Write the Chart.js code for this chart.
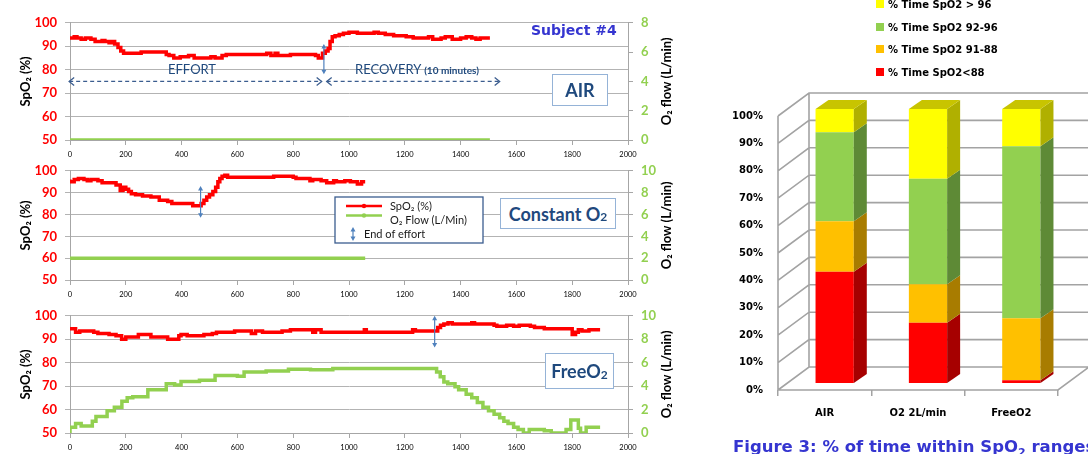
<!DOCTYPE html>
<html>
<head>
<meta charset="utf-8">
<title>Subject #4 - SpO2 and O2 flow</title>
<script src="https://cdn.jsdelivr.net/npm/chart.js@4.4.1/dist/chart.umd.min.js"></script>
<style>
  html, body { margin: 0; padding: 0; background: #fff; }
  body { position: relative; width: 1088px; height: 454px; overflow: hidden; font-family: Lato, sans-serif; }
  canvas { position: absolute; }
  .tag { position: absolute; box-sizing: border-box; background: #fff; border: 1.5px solid #95b3d7;
         color: #1f497d; font: bold 18px Lato, sans-serif; display: flex; align-items: center;
         justify-content: center; white-space: nowrap; }
  .tag sub { font-size: 12px; position: relative; top: 3px; vertical-align: baseline; }
  .note { position: absolute; color: #1f497d; font: 13px/13px Lato, sans-serif; white-space: nowrap; }
  .note b { font-size: 10px; }
  #subject { position: absolute; left: 531px; top: 23px; color: #3535d0; font: bold 14px/14px "DejaVu Sans", sans-serif; white-space: nowrap; }
  #legend3d { position: absolute; left: 876px; top: 0; font: bold 10px/12px "DejaVu Sans", sans-serif; }
  #legend3d div { position: absolute; left: 0; white-space: nowrap; }
  #legend3d span { display: inline-block; width: 8px; height: 8px; margin-right: 4px; }
  #caption { position: absolute; left: 733px; top: 438px; color: #3535d0; font: bold 16.5px/17px "DejaVu Sans", sans-serif; white-space: nowrap; }
  #caption sub { font-size: 11px; }
</style>
</head>
<body>
<canvas id="air" width="690" height="155" style="left:0;top:7px"></canvas>
<canvas id="constant" width="690" height="147" style="left:0;top:155px"></canvas>
<canvas id="free" width="690" height="155" style="left:0;top:300px"></canvas>
<canvas id="ranges" width="388" height="454" style="left:700px;top:0"></canvas>

<div id="subject">Subject #4</div>
<div class="note" style="left:168px;top:63px">EFFORT</div>
<div class="note" style="left:355px;top:63px">RECOVERY <b>(10 minutes)</b></div>
<div class="tag" style="left:552px;top:74px;width:56px;height:32px">AIR</div>
<div class="tag" style="left:500px;top:198px;width:116px;height:31px">Constant O<sub>2</sub></div>
<div class="tag" style="left:545px;top:353px;width:69px;height:36px">FreeO<sub>2</sub></div>

<div id="legend3d"></div>
<div id="caption">Figure 3: % of time within SpO<sub>2</sub> ranges</div>

<script>
// ---- Subject #4: SpO2 (%) and O2 flow (L/min) against time (s) ----
// AIR
const airTime = [0, 15, 25, 40, 55, 75, 90, 115, 125, 140, 150, 160, 172, 182, 192, 255, 345, 355, 372, 395,
  425, 445, 505, 520, 545, 560, 705, 720, 735, 745, 790, 880, 890, 905, 915, 925, 932, 940, 950, 965,
  980, 1000, 1030, 1090, 1105, 1130, 1160, 1205, 1230, 1285, 1300, 1330, 1345, 1370, 1400, 1420, 1440, 1455, 1470, 1480, 1505];
const airSpo2 = [94, 93.5, 94, 93.5, 93, 93.5, 93, 92, 92.5, 92, 91.5, 92, 91, 89.5, 88, 87, 87.5, 86.5, 86, 85,
  85.5, 86, 85, 85.5, 85, 86, 86.5, 87, 86, 87, 86, 86.5, 86, 85, 87, 88, 89, 92, 94, 94.5,
  95, 95.5, 96, 95.5, 96, 95.5, 95, 94.5, 94, 93.5, 94, 93, 93.5, 94, 93, 93.5, 94, 93.5, 93, 93.5, 93.5];
const airFlowTime = [0, 1505];
const airFlow = [0, 0];

// Constant O2
const constTime = [0, 15, 30, 50, 62, 75, 100, 115, 165, 180, 190, 200, 210, 220, 235, 260, 290, 320, 350, 365,
  440, 470, 480, 490, 500, 512, 522, 530, 537, 545, 555, 565, 730, 800, 810, 860, 870, 900, 920, 945,
  955, 985, 1005, 1030, 1045, 1052, 1058];
const constSpo2 = [96, 95, 96, 96.5, 96, 95.5, 96, 95.5, 94.5, 93.5, 91, 92.5, 91.5, 90.5, 89.5, 89, 88.5, 88, 86.5, 86,
  85, 84, 85, 86.5, 88, 89, 90.5, 92.5, 95, 96.5, 97.5, 98, 97, 97.5, 97, 96.5, 95.5, 96, 95.5, 94.5,
  95.5, 95, 95.5, 95, 94, 95, 95];
const constFlowTime = [0, 1058];
const constFlow = [2, 2];

// FreeO2
const freeTime = [0, 20, 35, 85, 100, 140, 165, 185, 200, 245, 290, 350, 390, 398, 420, 480, 510, 525, 590, 650,
  665, 690, 760, 790, 870, 880, 900, 1055, 1062, 1228, 1238, 1318, 1328, 1340, 1355, 1370, 1440, 1450, 1520, 1530,
  1565, 1590, 1610, 1650, 1665, 1700, 1800, 1812, 1822, 1835, 1860, 1875, 1900];
const freeSpo2 = [95, 94.5, 93, 93.5, 93, 92.5, 92, 91.5, 90, 91, 92, 91, 90, 91.5, 92, 91.5, 92, 92.5, 93, 93.5,
  92.5, 93.5, 93, 93.5, 94, 93, 94, 93, 94, 93, 94, 93.5, 95, 96, 96.5, 97, 96.5, 97, 96.5, 96,
  95.5, 96, 95.5, 96, 95.5, 95, 94.5, 92, 93, 94, 93.5, 94, 94];
const freeFlowTime = [0, 20, 40, 80, 93, 133, 159, 186, 205, 225, 279, 345, 375, 398, 464, 520, 600, 624, 703, 783,
  862, 942, 1221, 1314, 1327, 1340, 1354, 1380, 1393, 1420, 1440, 1460, 1480, 1500, 1520, 1540, 1555, 1570, 1590, 1606,
  1625, 1646, 1700, 1725, 1778, 1795, 1822, 1830, 1850, 1865, 1900];
const freeFlow = [0, 0.5, 0.8, 0.6, 1.0, 1.4, 1.9, 2.2, 2.7, 3.0, 3.1, 3.7, 4.2, 4.1, 4.4, 4.5, 4.9, 4.85, 5.2, 5.3,
  5.45, 5.4, 5.5, 5.5, 5.2, 4.8, 4.35, 4.2, 3.95, 3.7, 3.3, 3.0, 2.6, 2.2, 1.9, 1.6, 1.3, 1.0, 0.8, 0.5,
  0.3, 0, 0.3, 0.2, 0, 0.3, 1.1, 0.4, 0, 0.5, 0.5];

// end of effort markers: time, SpO2 span of the arrow
const airEffortEnd = { t: 910, from: 91, to: 78 };
const constEffortEnd = { t: 468, from: 93, to: 78.5 };
const freeEffortEnd = { t: 1307, from: 100, to: 86.5 };

// ---- Figure 3: % of time within SpO2 ranges ----
const groups = ['AIR', 'O2 2L/min', 'FreeO2'];
const below88 = [40.6, 22, 1];
const from88to91 = [18.4, 14, 22.6];
const from92to96 = [32.5, 38.5, 62.8];
const above96 = [8.5, 25.5, 13.6];
const rangeLabels = ['% Time SpO2<88', '% Time SpO2 91-88', '% Time SpO2 92-96', '% Time SpO2 > 96'];

const RED = '#ff0000';
const GREEN = '#92d050';
const GRID = '#b3b3b3';
const AXIS = '#a6a6a6';
const rangeFronts = ['#ff0000', '#ffc000', '#92d050', '#ffff00'];
const rangeSides = ['#a60000', '#a87c00', '#5e8a36', '#b0b000'];
const rangeTop = '#c8c400';

Chart.defaults.font.family = 'Lato';

const toPoints = (ts, vs) => ts.map((t, i) => ({ x: t, y: vs[i] }));

function doubleArrow(ctx, px, y0, y1) {
  ctx.strokeStyle = '#4f81bd';
  ctx.fillStyle = '#4f81bd';
  ctx.lineWidth = 1.2;
  ctx.beginPath();
  ctx.moveTo(px, y0 + 3);
  ctx.lineTo(px, y1 - 3);
  ctx.stroke();
  ctx.beginPath();
  ctx.moveTo(px, y0); ctx.lineTo(px - 2.5, y0 + 4.5); ctx.lineTo(px + 2.5, y0 + 4.5); ctx.closePath();
  ctx.moveTo(px, y1); ctx.lineTo(px - 2.5, y1 - 4.5); ctx.lineTo(px + 2.5, y1 - 4.5); ctx.closePath();
  ctx.fill();
}

const panelDeco = {
  id: 'panelDeco',
  afterDatasetsDraw(chart, args, opts) {
    const { ctx, chartArea: area, scales: { x, y } } = chart;
    ctx.save();

    // effort / recovery dashed arrows
    (opts.phases || []).forEach(p => {
      const x0 = x.getPixelForValue(p.from), x1 = x.getPixelForValue(p.to), py = y.getPixelForValue(p.level);
      ctx.strokeStyle = '#3b5d8f';
      ctx.lineWidth = 1.3;
      ctx.setLineDash([4, 3]);
      ctx.beginPath(); ctx.moveTo(x0, py); ctx.lineTo(x1, py); ctx.stroke();
      ctx.setLineDash([]);
      ctx.beginPath();
      ctx.moveTo(x0 + 5, py - 4); ctx.lineTo(x0, py); ctx.lineTo(x0 + 5, py + 4);
      ctx.moveTo(x1 - 5, py - 4); ctx.lineTo(x1, py); ctx.lineTo(x1 - 5, py + 4);
      ctx.stroke();
    });

    if (opts.effortEnd) {
      const e = opts.effortEnd;
      doubleArrow(ctx, x.getPixelForValue(e.t), y.getPixelForValue(e.from), y.getPixelForValue(e.to));
    }

    // legend box (Constant O2 panel)
    if (opts.legendAt) {
      const L = opts.legendAt.x, T = opts.legendAt.y;
      ctx.fillStyle = '#fff';
      ctx.fillRect(L, T, 148, 46);
      ctx.strokeStyle = '#3b5d8f';
      ctx.lineWidth = 1.3;
      ctx.strokeRect(L, T, 148, 46);
      const rows = [{ line: 9, text: 9.5 }, { line: 18.5, text: 23.5 }];
      ctx.font = '11px Lato';
      ctx.textBaseline = 'middle';
      chart.data.datasets.forEach((d, i) => {
        ctx.strokeStyle = d.borderColor;
        ctx.fillStyle = d.borderColor;
        ctx.lineWidth = 2.5;
        ctx.beginPath(); ctx.moveTo(L + 11, T + rows[i].line); ctx.lineTo(L + 47, T + rows[i].line); ctx.stroke();
        ctx.beginPath(); ctx.arc(L + 29, T + rows[i].line, 2.2, 0, Math.PI * 2); ctx.fill();
        ctx.fillStyle = '#1a1a1a';
        ctx.fillText(d.label, L + 55, T + rows[i].text);
      });
      doubleArrow(ctx, L + 18, T + 30, T + 44);
      ctx.fillStyle = '#1a1a1a';
      ctx.fillText('End of effort', L + 29, T + 37.5);
    }

    // right axis title, reading upwards
    ctx.translate(area.right + 39, (area.top + area.bottom) / 2);
    ctx.rotate(-Math.PI / 2);
    ctx.fillStyle = '#000';
    ctx.font = 'bold 13px Lato';
    ctx.textAlign = 'center';
    ctx.textBaseline = 'middle';
    ctx.fillText('O₂ flow (L/min)', 0, 0);
    ctx.restore();
  }
};

function panel(id, spoT, spoV, flowT, flowV, flowMax, deco) {
  return new Chart(document.getElementById(id), {
    type: 'line',
    data: {
      datasets: [
        { label: 'SpO₂ (%)', data: toPoints(spoT, spoV), yAxisID: 'y', borderColor: RED, backgroundColor: RED,
          borderWidth: 3.5, pointRadius: 0, stepped: 'after' },
        { label: 'O₂ Flow (L/Min)', data: toPoints(flowT, flowV), yAxisID: 'flow', borderColor: GREEN, backgroundColor: GREEN,
          borderWidth: 3.5, pointRadius: 0, stepped: 'after' }
      ]
    },
    options: {
      responsive: false,
      animation: false,
      devicePixelRatio: 1,
      layout: { padding: { top: 10, left: 0, right: 0, bottom: 0 } },
      plugins: { legend: { display: false }, tooltip: { enabled: false }, panelDeco: deco },
      scales: {
        x: {
          type: 'linear', min: 0, max: 2000,
          ticks: { stepSize: 200, callback: v => String(v), color: '#000', font: { size: 7.5 }, padding: 5, maxRotation: 0 },
          grid: { drawOnChartArea: false, tickLength: 5, color: AXIS },
          border: { color: AXIS },
          afterFit: s => { s.height = 22; }
        },
        y: {
          position: 'left', min: 50, max: 100,
          ticks: { stepSize: 10, color: RED, font: { size: 13, weight: 'bold' }, padding: 8 },
          grid: { color: GRID, tickLength: 5 },
          border: { color: AXIS },
          title: { display: true, text: 'SpO₂ (%)', color: '#000', font: { size: 13, weight: 'bold' }, padding: { top: 18, bottom: 0 } },
          afterFit: s => { s.width = 70; }
        },
        flow: {
          position: 'right', min: 0, max: flowMax,
          ticks: { stepSize: 2, color: GREEN, font: { size: 13, weight: 'bold' }, padding: 8 },
          grid: { drawOnChartArea: false, tickLength: 5, color: AXIS },
          border: { color: AXIS },
          afterFit: s => { s.width = 62; }
        }
      }
    },
    plugins: [panelDeco]
  });
}

panel('air', airTime, airSpo2, airFlowTime, airFlow, 8, {
  effortEnd: airEffortEnd,
  phases: [{ from: -3, to: 902, level: 75 }, { from: 920, to: 1540, level: 75 }]
});
panel('constant', constTime, constSpo2, constFlowTime, constFlow, 10, {
  effortEnd: constEffortEnd,
  legendAt: { x: 335, y: 42 }
});
panel('free', freeTime, freeSpo2, freeFlowTime, freeFlow, 10, { effortEnd: freeEffortEnd });

// ---- 3D-looking stacked columns ----
const WALL = { dx: 31, dy: 23 };
const SHIFT = { dx: 10, dy: 7 };
const DEPTH = { dx: 13, dy: 9 };

function poly(ctx, pts) {
  ctx.beginPath();
  pts.forEach((p, i) => (i ? ctx.lineTo(p[0], p[1]) : ctx.moveTo(p[0], p[1])));
  ctx.closePath();
  ctx.fill();
}

const depth3d = {
  id: 'depth3d',
  beforeDatasetsDraw(chart) {
    const { ctx, chartArea: a, scales: { y } } = chart;
    ctx.save();
    ctx.strokeStyle = '#a3a3a3';
    ctx.lineWidth = 1.6;
    ctx.beginPath();
    y.ticks.forEach(t => {
      const py = y.getPixelForValue(t.value);
      ctx.moveTo(a.left, py);
      ctx.lineTo(a.left + WALL.dx, py - WALL.dy);
      ctx.lineTo(chart.width, py - WALL.dy);
    });
    ctx.moveTo(a.left, a.bottom); ctx.lineTo(a.left, a.top);
    ctx.moveTo(a.left + WALL.dx, a.bottom - WALL.dy); ctx.lineTo(a.left + WALL.dx, a.top - WALL.dy);
    ctx.moveTo(a.left, a.bottom); ctx.lineTo(a.right, a.bottom); ctx.lineTo(a.right + WALL.dx, a.bottom - WALL.dy);
    ctx.stroke();
    ctx.restore();
    ctx.save();
    ctx.translate(SHIFT.dx, -SHIFT.dy);
  },
  afterDatasetsDraw(chart) {
    const { ctx } = chart;
    ctx.restore();
    ctx.save();
    ctx.translate(SHIFT.dx, -SHIFT.dy);
    const last = chart.data.datasets.length - 1;
    chart.data.datasets.forEach((ds, i) => {
      chart.getDatasetMeta(i).data.forEach(bar => {
        const { x, y, base, width } = bar.getProps(['x', 'y', 'base', 'width'], true);
        const l = x - width / 2, r = x + width / 2;
        const top = Math.min(y, base), bot = Math.max(y, base);
        ctx.fillStyle = rangeSides[i];
        poly(ctx, [[r, top], [r + DEPTH.dx, top - DEPTH.dy], [r + DEPTH.dx, bot - DEPTH.dy], [r, bot]]);
        if (i === last) {
          ctx.fillStyle = rangeTop;
          poly(ctx, [[l, top], [l + DEPTH.dx, top - DEPTH.dy], [r + DEPTH.dx, top - DEPTH.dy], [r, top]]);
        }
      });
    });
    ctx.restore();
  }
};

const rangeValues = [below88, from88to91, from92to96, above96];
new Chart(document.getElementById('ranges'), {
  type: 'bar',
  data: {
    labels: groups,
    datasets: rangeValues.map((vals, i) => ({
      label: rangeLabels[i], data: vals, backgroundColor: rangeFronts[i], borderWidth: 0
    }))
  },
  options: {
    responsive: false,
    animation: false,
    devicePixelRatio: 1,
    layout: { padding: { top: 116, right: 30, left: 0, bottom: 0 } },
    datasets: { bar: { barPercentage: 0.41, categoryPercentage: 1 } },
    plugins: { legend: { display: false }, tooltip: { enabled: false } },
    scales: {
      x: {
        stacked: true,
        ticks: { color: '#000', font: { family: 'DejaVu Sans', size: 10, weight: 'bold' }, padding: 11 },
        grid: { offset: true, drawOnChartArea: false, tickLength: 6, color: '#a3a3a3', lineWidth: 1.5 },
        border: { display: false },
        afterFit: s => { s.height = 64; }
      },
      y: {
        stacked: true, min: 0, max: 100,
        ticks: { stepSize: 10, callback: v => v + '%', color: '#000', font: { family: 'DejaVu Sans', size: 10, weight: 'bold' }, padding: 15 },
        grid: { display: false, drawTicks: false },
        border: { display: false },
        afterFit: s => { s.width = 78; }
      }
    }
  },
  plugins: [depth3d]
});

// legend of the ranges, highest range first
const legendBox = document.getElementById('legend3d');
rangeLabels.map((label, i) => ({ label, color: rangeFronts[i] })).reverse().forEach((item, k) => {
  const row = document.createElement('div');
  row.style.top = (k * 22.7 - 1) + 'px';
  const sw = document.createElement('span');
  sw.style.background = item.color;
  row.appendChild(sw);
  row.appendChild(document.createTextNode(item.label));
  legendBox.appendChild(row);
});
</script>
</body>
</html>
